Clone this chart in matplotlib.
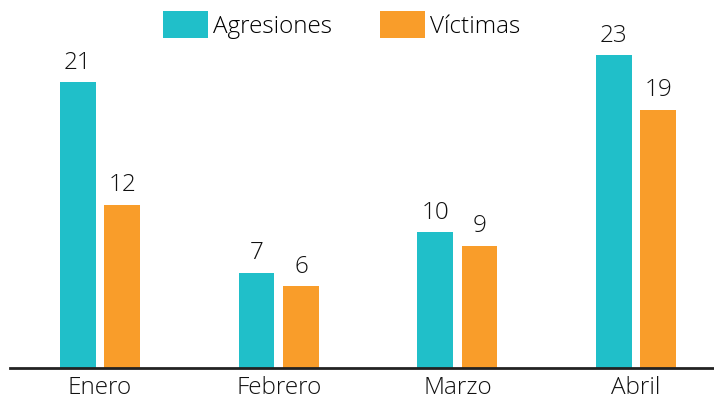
import matplotlib
matplotlib.use("Agg")
import matplotlib.pyplot as plt
import numpy as np

# datos
meses = ["Enero", "Febrero", "Marzo", "Abril"]
agresiones = [21, 7, 10, 23]
victimas = [12, 6, 9, 19]

color_agr = "#20BFC9"
color_vic = "#F99D2A"

plt.rcParams['font.family'] = ['Open Sans', 'DejaVu Sans']
plt.rcParams['font.weight'] = 'light'
tam = 17.5

fig = plt.figure(figsize=(7.14, 4.03), dpi=100)
ax = fig.add_axes([10 / 714, 35 / 403, 704 / 714, 368 / 403])

x = np.arange(len(meses))
ancho = 0.2
desp = 0.124

b1 = ax.bar(x - desp, agresiones, ancho, color=color_agr, label="Agresiones")
b2 = ax.bar(x + desp, victimas, ancho, color=color_vic, label="Víctimas")

for barras in (b1, b2):
    for b in barras:
        ax.text(b.get_x() + b.get_width() / 2, b.get_height() + 0.55,
                str(int(b.get_height())), ha="center", va="bottom",
                fontsize=tam, color="#111111")

ax.set_xlim(-0.504, 3.436)
ax.set_ylim(0, 27.06)
ax.set_xticks(x)
ax.set_xticklabels(meses, fontsize=tam, color="#111111")
ax.tick_params(axis="x", length=0, pad=6)
ax.set_yticks([])
for lado in ["left", "right", "top"]:
    ax.spines[lado].set_visible(False)
ax.spines["bottom"].set_linewidth(2)
ax.spines["bottom"].set_color("#222222")

fs_px = tam * 100 / 72
fig.legend(handles=[b1, b2], labels=["Agresiones", "Víctimas"],
           loc="upper left", bbox_to_anchor=(163 / 714, 1 - 11 / 403),
           bbox_transform=fig.transFigure, ncol=2, frameon=False,
           fontsize=tam, handlelength=45 / fs_px, handleheight=32 / fs_px,
           handletextpad=5 / fs_px, columnspacing=48 / fs_px,
           borderaxespad=0, borderpad=0)

fig.savefig("out.png", dpi=100)
